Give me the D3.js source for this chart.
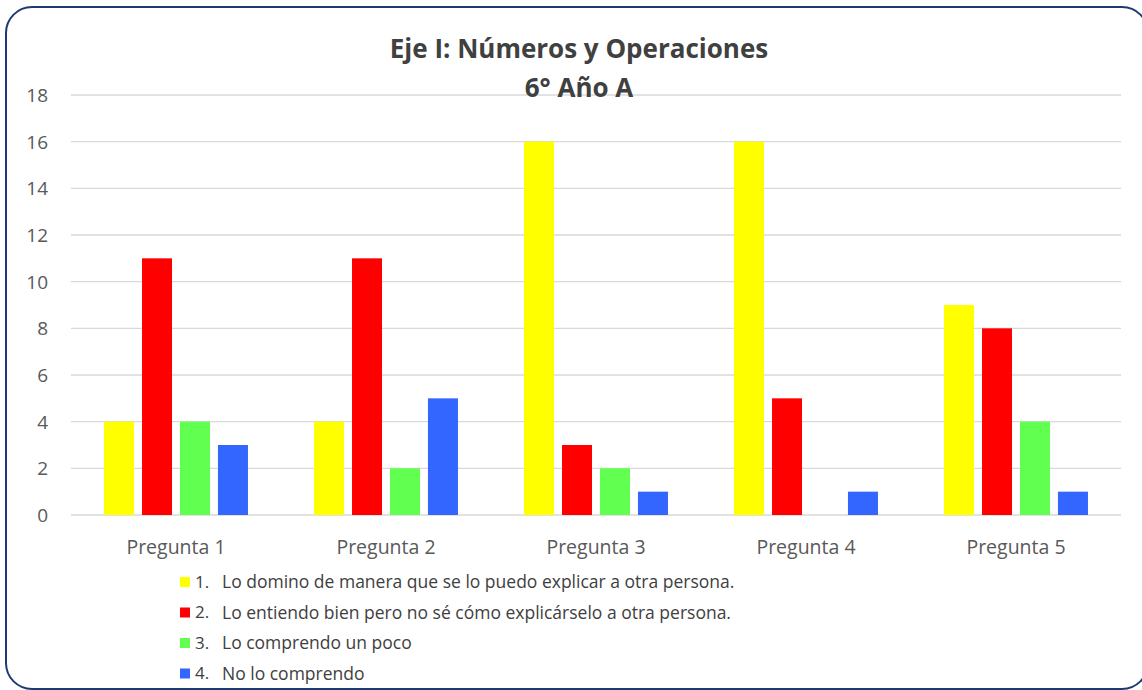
<!DOCTYPE html>
<html>
<head>
<meta charset="utf-8">
<script src="https://cdn.jsdelivr.net/npm/d3@7"></script>
<style>
  body { margin: 0; background: #fff; }
  svg { display: block; font-family: 'Open Sans', sans-serif; }
</style>
</head>
<body>
<svg id="chart"></svg>
<script>
// Data
const categories = ['Pregunta 1', 'Pregunta 2', 'Pregunta 3', 'Pregunta 4', 'Pregunta 5'];
const seriesNames = [
  'Lo domino de manera que se lo puedo explicar a otra persona.',
  'Lo entiendo bien pero no sé cómo explicárselo a otra persona.',
  'Lo comprendo un poco',
  'No lo comprendo'
];
const seriesValues = [
  [4, 4, 16, 16, 9],
  [11, 11, 3, 5, 8],
  [4, 2, 2, 0, 4],
  [3, 5, 1, 1, 1]
];
const yTicks = [0, 2, 4, 6, 8, 10, 12, 14, 16, 18];
const colors = ['#FFFF00', '#FF0000', '#60FF50', '#3366FF'];

// Dimensions
const width = 1142;
const height = 690;
const margin = { top: 95, right: 21, bottom: 175, left: 71 };

const svg = d3.select('#chart')
  .attr('width', width)
  .attr('height', height);

// Rounded frame
svg.append('rect')
  .attr('x', 6)
  .attr('y', 7)
  .attr('width', 1142)
  .attr('height', 682)
  .attr('rx', 26)
  .attr('fill', '#fff')
  .attr('stroke', '#1F3A73')
  .attr('stroke-width', 2);

// Scales
const x0 = d3.scaleBand()
  .domain(categories)
  .range([margin.left, width - margin.right])
  .paddingInner(0)
  .paddingOuter(0);

const x1 = d3.scaleBand()
  .domain(d3.range(seriesNames.length))
  .range([0, x0.bandwidth()])
  .paddingInner(0.21)
  .paddingOuter(0.87);

const y = d3.scaleLinear()
  .domain([0, 18])
  .range([height - margin.bottom, margin.top]);

// Gridlines
svg.append('g')
  .selectAll('line')
  .data(yTicks)
  .join('line')
  .attr('x1', margin.left)
  .attr('x2', width - margin.right)
  .attr('y1', (d) => y(d))
  .attr('y2', (d) => y(d))
  .attr('stroke', '#D9D9D9')
  .attr('stroke-width', 1.3);

// Y tick labels
svg.append('g')
  .selectAll('text')
  .data(yTicks)
  .join('text')
  .attr('x', 48)
  .attr('y', (d) => y(d))
  .attr('dy', '0.36em')
  .attr('text-anchor', 'end')
  .attr('font-size', '19px')
  .attr('fill', '#595959')
  .text((d) => d);

// Bars
const groups = svg.append('g')
  .selectAll('g')
  .data(categories)
  .join('g')
  .attr('transform', (d) => `translate(${x0(d)},0)`);

groups.selectAll('rect')
  .data((d, i) => seriesValues.map((vals, s) => ({ s, v: vals[i] })))
  .join('rect')
  .attr('x', (d) => x1(d.s))
  .attr('width', x1.bandwidth())
  .attr('y', (d) => y(d.v))
  .attr('height', (d) => y(0) - y(d.v))
  .attr('fill', (d) => colors[d.s]);

// Category labels
svg.append('g')
  .selectAll('text')
  .data(categories)
  .join('text')
  .attr('x', (d) => x0(d) + x0.bandwidth() / 2)
  .attr('y', 554)
  .attr('text-anchor', 'middle')
  .attr('font-size', '19.5px')
  .attr('fill', '#595959')
  .text((d) => d);

// Title
const title = svg.append('text')
  .attr('text-anchor', 'middle')
  .attr('font-size', '26px')
  .attr('font-weight', 'bold')
  .attr('fill', '#404040');
title.append('tspan').attr('x', 579).attr('y', 58).text('Eje I: Números y Operaciones');
title.append('tspan').attr('x', 579).attr('y', 97).text('6° Año A');

// Legend
const legend = svg.append('g')
  .selectAll('g')
  .data(seriesNames)
  .join('g')
  .attr('transform', (d, i) => `translate(180, ${582 + i * 30.5})`);

legend.append('rect')
  .attr('x', 0)
  .attr('y', -5)
  .attr('width', 10)
  .attr('height', 10)
  .attr('fill', (d, i) => colors[i]);

legend.append('text')
  .attr('x', 15)
  .attr('dy', '0.35em')
  .attr('font-size', '17px')
  .attr('fill', '#404040')
  .text((d, i) => `${i + 1}.`);

legend.append('text')
  .attr('x', 42)
  .attr('dy', '0.35em')
  .attr('font-size', '17.5px')
  .attr('fill', '#404040')
  .text((d) => d);
</script>
</body>
</html>
